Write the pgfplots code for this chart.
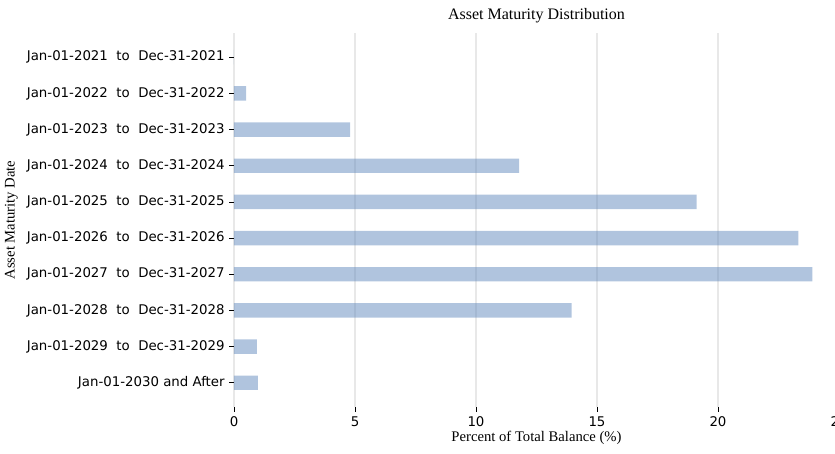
\documentclass[border=0pt]{standalone}
\usepackage{fontspec}
\setmainfont{DejaVu Sans}
\newfontfamily\serif{Liberation Serif}
\usepackage{pgfplots}
\pgfplotsset{compat=1.18}
\definecolor{barblue}{RGB}{97,137,189}

\begin{document}
\begin{tikzpicture}
\begin{axis}[
    scale only axis,
    width=453.75pt, height=280.5pt,
    xbar, bar width=0.4, bar shift=0pt,
    xmin=0, xmax=25,
    ymin=-0.67, ymax=9.67,
    y dir=reverse,
    axis line style={draw=none},
    xtick={0,5,10,15,20,25},
    ytick={0,...,9},
    yticklabels={
      Jan-01-2021\ \ to\ \ Dec-31-2021,
      Jan-01-2022\ \ to\ \ Dec-31-2022,
      Jan-01-2023\ \ to\ \ Dec-31-2023,
      Jan-01-2024\ \ to\ \ Dec-31-2024,
      Jan-01-2025\ \ to\ \ Dec-31-2025,
      Jan-01-2026\ \ to\ \ Dec-31-2026,
      Jan-01-2027\ \ to\ \ Dec-31-2027,
      Jan-01-2028\ \ to\ \ Dec-31-2028,
      Jan-01-2029\ \ to\ \ Dec-31-2029,
      Jan-01-2030 and After},
    tick align=outside,
    major tick length=3.5pt,
    tick style={black, line width=0.6pt},
    xtick pos=bottom, ytick pos=left,
    /pgf/number format/assume math mode=true,
    ticklabel style={font=\fontsize{10}{12}\selectfont},
    xmajorgrids,
    major grid style={black!9, line width=0.8pt},
    title={\serif\fontsize{12}{14}\selectfont Asset Maturity Distribution},
    title style={yshift=-2pt},
    xlabel={\serif\fontsize{11}{13}\selectfont Percent of Total Balance (\%)},
    ylabel={\serif\fontsize{11}{13}\selectfont Asset Maturity Date},
    xlabel style={yshift=3pt},
  ]
\addplot[draw=none, fill=barblue, fill opacity=0.5] coordinates {
  (0,0) (0.50,1) (4.80,2) (11.78,3) (19.12,4)
  (23.32,5) (23.90,6) (13.95,7) (0.95,8) (0.99,9)
};
\end{axis}
\pgfresetboundingbox
\path ([shift={(-175.5pt,-35.25pt)}]current axis.south west)
  rectangle ([shift={(450.75pt,24.75pt)}]current axis.north west);
\end{tikzpicture}
\end{document}
